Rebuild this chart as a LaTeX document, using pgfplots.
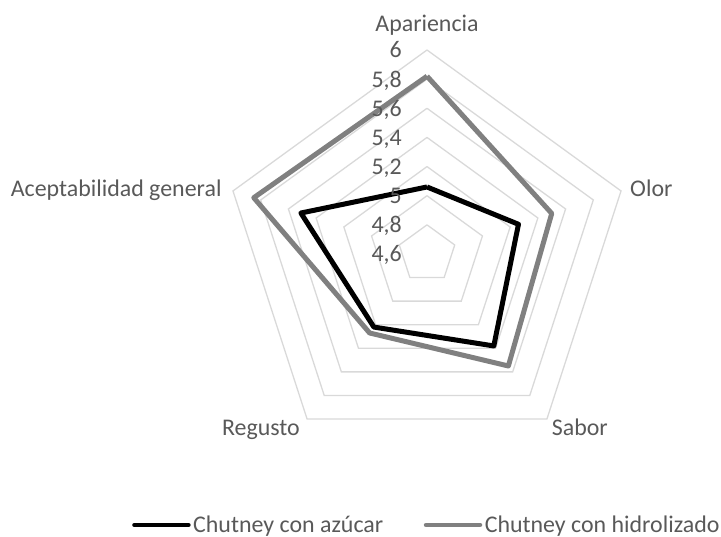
\documentclass[border=0pt]{standalone}
\usepackage{pgfplots}
\pgfplotsset{compat=1.18}
\usepackage{pgfplotstable}
\usepackage{fontspec}
\setmainfont{Carlito}
\definecolor{txt}{HTML}{595959}
\definecolor{gridc}{HTML}{D9D9D9}
\definecolor{grayser}{HTML}{808080}

\pgfplotstableread{
a v
90 5.06
18 5.26
-54 5.38
-126 5.22
162 5.51
450 5.06
}\azucar
\pgfplotstableread{
a v
90 5.82
18 5.50
-54 5.55
-126 5.27
162 5.85
450 5.82
}\hidro
\pgfplotstableread{
a b
90 0
18 0
-54 0
-126 0
162 0
450 0
}\angs

\begin{document}
\begin{tikzpicture}
\begin{axis}[
  x=1bp, y=1bp,
  xmin=-427, xmax=294, ymin=-283, ymax=254,
  hide axis, clip=false,
  legend columns=2,
  legend style={at={(axis cs:-295,-271)}, anchor=west, draw=none, fill=none,
    font=\fontsize{24}{28}\selectfont\color{txt}, inner sep=0pt,
    nodes={inner sep=2.5bp},
    /tikz/every even column/.append style={column sep=38bp},
    cells={anchor=west}},
  legend image code/.code={\draw[#1, line width=4.5bp, line cap=round] (0bp,0bp) -- (54bp,0bp);},
]
\coordinate (ll) at (axis cs:-427,-283);
\coordinate (ur) at (axis cs:294,254);
\pgfplotsinvokeforeach{4.8,5.0,5.2,5.4,5.6,5.8,6.0}{
  \addplot[gridc, line width=1.3bp, forget plot] table[
    x expr={(#1-4.6)*145.714*cos(\thisrow{a})},
    y expr={(#1-4.6)*145.714*sin(\thisrow{a})}]{\angs};
}
\addplot[black, line width=5bp, line join=round] table[
    x expr={(\thisrow{v}-4.6)*145.714*cos(\thisrow{a})},
    y expr={(\thisrow{v}-4.6)*145.714*sin(\thisrow{a})}]{\azucar};
\addlegendentry{Chutney con azúcar}
\addplot[grayser, line width=5bp, line join=round] table[
    x expr={(\thisrow{v}-4.6)*145.714*cos(\thisrow{a})},
    y expr={(\thisrow{v}-4.6)*145.714*sin(\thisrow{a})}]{\hidro};
\addlegendentry{Chutney con hidrolizado}

\begin{scope}[every node/.style={font=\fontsize{24}{28}\selectfont, text=txt, inner sep=0pt}]
\node[anchor=base east] at (axis cs:-25,-8) {4,6};
\node[anchor=base east] at (axis cs:-25,21.14) {4,8};
\node[anchor=base east] at (axis cs:-25,50.29) {5};
\node[anchor=base east] at (axis cs:-25,79.43) {5,2};
\node[anchor=base east] at (axis cs:-25,108.57) {5,4};
\node[anchor=base east] at (axis cs:-25,137.71) {5,6};
\node[anchor=base east] at (axis cs:-25,166.86) {5,8};
\node[anchor=base east] at (axis cs:-25,196) {6};
\node[anchor=base] at (axis cs:0,222.3) {Apariencia};
\node[anchor=base west] at (axis cs:203,57.3) {Olor};
\node[anchor=base west] at (axis cs:124.7,-182) {Sabor};
\node[anchor=base east] at (axis cs:-127,-182) {Regusto};
\node[anchor=base east] at (axis cs:-205.3,57.3) {Aceptabilidad general};
\end{scope}
\end{axis}
\pgfresetboundingbox
\path (ll) rectangle (ur);
\end{tikzpicture}
\end{document}
